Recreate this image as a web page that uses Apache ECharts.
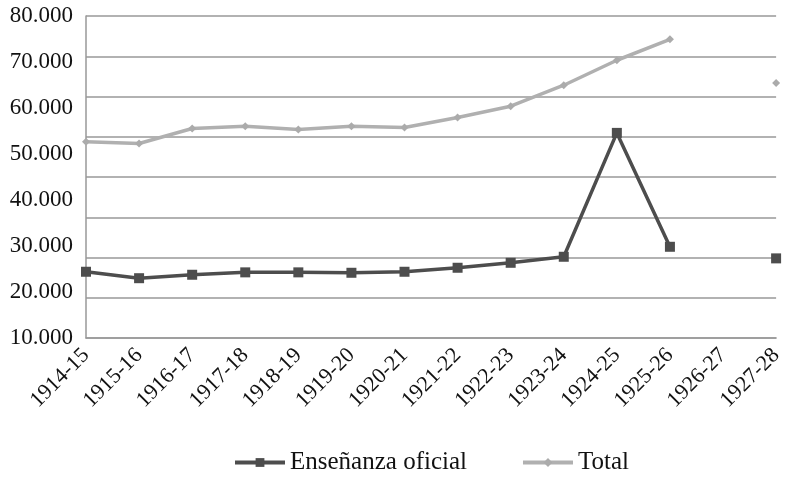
<!DOCTYPE html>
<html>
<head>
<meta charset="utf-8">
<script src="https://cdn.jsdelivr.net/npm/echarts@6/dist/echarts.min.js"></script>
<style>
  html, body { margin: 0; padding: 0; background: #fff; }
  #chart { width: 786px; height: 480px; }
</style>
</head>
<body>
<div id="chart"></div>
<script>
// School years
const categories = ['1914-15', '1915-16', '1916-17', '1917-18', '1918-19', '1919-20', '1920-21',
  '1921-22', '1922-23', '1923-24', '1924-25', '1925-26', '1926-27', '1927-28'];

// Enrolment, official teaching (no data for 1926-27)
const ensenanzaOficial = [24400, 23000, 23750, 24270, 24270, 24180, 24400,
  25270, 26350, 27660, 54590, 29830, null, 27310];

// Enrolment, total (no data for 1926-27)
const total = [52640, 52290, 55550, 56050, 55330, 56050, 55760,
  57940, 60390, 64950, 70380, 74940, null, 65450];

// Value axis ticks
const yMin = 10000;
const yMax = 80000;
const yStep = 10000;
const gridStep = 8750;

const serif = '"Liberation Serif", "DejaVu Serif", serif';
const fmt = v => (v / 1000).toFixed(3);

const chart = echarts.init(document.getElementById('chart'));
chart.setOption({
  animation: false,
  backgroundColor: '#fff',
  grid: { left: 86, right: 9, top: 16, bottom: 142, containLabel: false },
  xAxis: {
    type: 'category',
    data: categories,
    boundaryGap: false,
    axisLine: { show: true, lineStyle: { color: '#999', width: 1.5 } },
    axisTick: { show: false },
    axisLabel: {
      rotate: 45,
      interval: 0,
      margin: 14,
      fontFamily: serif,
      fontSize: 22,
      color: '#111'
    },
    splitLine: { show: false }
  },
  yAxis: [
    {
      type: 'value',
      min: yMin,
      max: yMax,
      interval: yStep,
      axisLine: { show: true, lineStyle: { color: '#999', width: 1.5 } },
      axisTick: { show: false },
      axisLabel: {
        margin: 13,
        fontFamily: serif,
        fontSize: 23,
        color: '#111',
        padding: [8, 0, 0, 0],
        formatter: fmt
      },
      splitLine: { show: false }
    },
    {
      type: 'value',
      min: yMin,
      max: yMax,
      interval: gridStep,
      position: 'left',
      axisLine: { show: false },
      axisTick: { show: false },
      axisLabel: { show: false },
      splitLine: { show: true, lineStyle: { color: '#999', width: 1.5 } }
    }
  ],
  legend: {
    bottom: 0,
    left: 228,
    itemGap: 54,
    itemWidth: 50,
    itemHeight: 11,
    lineStyle: { width: 4 },
    textStyle: { fontFamily: serif, fontSize: 25, color: '#111' },
    data: ['Enseñanza oficial', 'Total']
  },
  series: [
    {
      name: 'Enseñanza oficial',
      type: 'line',
      yAxisIndex: 0,
      data: ensenanzaOficial,
      symbol: 'rect',
      symbolSize: 10,
      showAllSymbol: true,
      connectNulls: false,
      itemStyle: { color: '#4d4d4d' },
      lineStyle: { color: '#4d4d4d', width: 3.5 },
      z: 3
    },
    {
      name: 'Total',
      type: 'line',
      yAxisIndex: 0,
      data: total,
      symbol: 'diamond',
      symbolSize: 8,
      showAllSymbol: true,
      connectNulls: false,
      itemStyle: { color: '#ababab' },
      lineStyle: { color: '#b0b0b0', width: 3.5 },
      z: 2
    }
  ]
});
</script>
</body>
</html>
